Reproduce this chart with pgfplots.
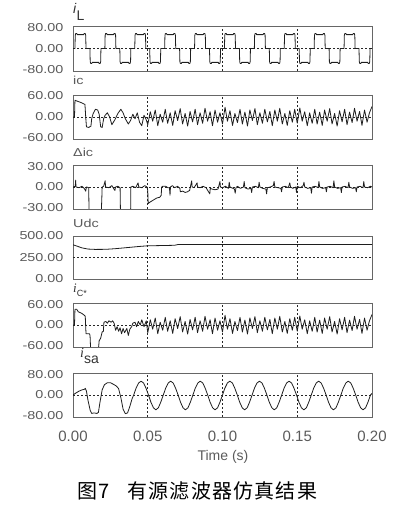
\documentclass[border=0pt]{standalone}
\usepackage{fontspec}
\setmainfont{Liberation Sans}
\newfontfamily\tickfont[FakeStretch=1.25]{Liberation Sans}
\newfontfamily\serifit{Liberation Serif}
\newfontfamily\cjk[LetterSpace=6]{Noto Sans CJK SC}
\usepackage{pgfplots}
\usepackage{pgfplotstable}
\pgfplotsset{compat=1.18}
\definecolor{tickc}{HTML}{5A5A5A}
\definecolor{wave}{HTML}{1E1E1E}
\pgfplotsset{
  panel/.style={
    scale only axis, width=299pt, xmin=0, xmax=0.2,
    anchor=north west,
    axis line style={black!60, line width=0.7pt},
    major tick length=0pt,
    xtick={0,0.05,0.1,0.15,0.2}, xticklabels={},
    xmajorgrids,
    major grid style={black!85, line width=0.55pt, dash pattern=on 2pt off 2pt},
    yticklabel style={font=\tickfont\fontsize{11.5}{12}\selectfont, text=tickc, xshift=-6pt},
    xticklabel style={font=\fontsize{15}{16}\selectfont, text=tickc, yshift=-10pt},
    extra y tick labels={},
    extra y tick style={ymajorgrids=true},
  },
  wv/.style={wave, line width=0.8pt, no markers, line join=round},
}
\pgfplotstableread{
t v
0.0500 -22
0.0517 15
0.0533 -12
0.0550 20
0.0567 -25
0.0583 8
0.0600 -15
0.0617 22
0.0633 -18
0.0650 12
0.0667 -24
0.0683 18
0.0700 -10
0.0717 24
0.0733 -20
0.0750 10
0.0767 -26
0.0783 16
0.0800 -14
0.0817 22
0.0833 -22
0.0850 12
0.0867 -18
0.0883 25
0.0900 -12
0.0917 15
0.0933 -25
0.0950 20
0.0967 -15
0.0983 12
0.1000 -20
0.1017 28
0.1033 -12
0.1050 18
0.1067 -24
0.1083 10
0.1100 -16
0.1117 22
0.1133 -20
0.1150 14
0.1167 -26
0.1183 20
0.1200 -10
0.1217 24
0.1233 -22
0.1250 12
0.1267 -18
0.1283 22
0.1300 -14
0.1317 16
0.1333 -25
0.1350 20
0.1367 -12
0.1383 25
0.1400 -20
0.1417 10
0.1433 -24
0.1450 18
0.1467 -15
0.1483 22
0.1500 -18
0.1517 26
0.1533 -12
0.1550 15
0.1567 -25
0.1583 12
0.1600 -18
0.1617 22
0.1633 -20
0.1650 14
0.1667 -24
0.1683 20
0.1700 -12
0.1717 24
0.1733 -20
0.1750 10
0.1767 -26
0.1783 18
0.1800 -14
0.1817 22
0.1833 -22
0.1850 14
0.1867 -16
0.1883 25
0.1900 -12
0.1917 16
0.1933 -24
0.1950 20
0.1967 -15
0.1983 12
0.2000 30
}\zigzag
\pgfplotstableread{
t v
0.0406 0
0.0422 27
0.0439 47
0.0455 54
0.0472 47
0.0488 27
0.0505 0
0.0521 -28
0.0538 -50
0.0554 -58
0.0571 -50
0.0587 -28
0.0604 0
0.0620 27
0.0637 47
0.0653 54
0.0670 47
0.0686 27
0.0703 0
0.0719 -28
0.0736 -50
0.0752 -58
0.0769 -50
0.0785 -28
0.0802 0
0.0818 27
0.0835 47
0.0851 54
0.0868 47
0.0884 27
0.0901 0
0.0917 -28
0.0934 -50
0.0950 -58
0.0967 -50
0.0983 -28
0.1000 0
0.1016 27
0.1033 47
0.1049 54
0.1066 47
0.1082 27
0.1099 0
0.1115 -28
0.1132 -50
0.1148 -58
0.1165 -50
0.1181 -28
0.1198 0
0.1214 27
0.1231 47
0.1247 54
0.1264 47
0.1280 27
0.1297 0
0.1313 -28
0.1330 -50
0.1346 -58
0.1363 -50
0.1379 -28
0.1396 0
0.1412 27
0.1429 47
0.1445 54
0.1462 47
0.1478 27
0.1495 0
0.1511 -28
0.1528 -50
0.1544 -58
0.1561 -50
0.1577 -28
0.1594 0
0.1610 27
0.1627 47
0.1643 54
0.1660 47
0.1676 27
0.1693 0
0.1709 -28
0.1726 -50
0.1742 -58
0.1759 -50
0.1775 -28
0.1792 0
0.1808 27
0.1825 47
0.1841 54
0.1858 47
0.1874 27
0.1891 0
0.1907 -28
0.1924 -50
0.1940 -58
0.1957 -50
0.1973 -28
0.1990 0
0.2000 6
}\isasteady
\begin{document}
\begin{tikzpicture}
\path[use as bounding box] (0pt,0pt) rectangle (408pt,510pt);

% ---------- panel 1: iL ----------
\begin{axis}[panel, at={(73pt,484pt)}, height=45pt,
  ymin=-86, ymax=86, ytick={-80,0,80}, yticklabels={-80.00,0.00,80.00},
  extra y ticks={0}]
\addplot[wv] coordinates {
(0,0) (0.0013,0) (0.0015,50) (0.0018,57) (0.0026,57) (0.0028,53) (0.0072,53) (0.0074,57) (0.0082,57) (0.0085,50) (0.0087,0) (0.0113,0) (0.0115,-50) (0.0118,-57) (0.0126,-57) (0.0128,-53) (0.0172,-53) (0.0174,-57) (0.0182,-57) (0.0185,-50) (0.0187,0)
(0.0213,0) (0.0215,50) (0.0218,57) (0.0226,57) (0.0228,53) (0.0272,53) (0.0274,57) (0.0282,57) (0.0285,50) (0.0287,0) (0.0313,0) (0.0315,-50) (0.0318,-57) (0.0326,-57) (0.0328,-53) (0.0372,-53) (0.0374,-57) (0.0382,-57) (0.0385,-50) (0.0387,0)
(0.0413,0) (0.0415,50) (0.0418,57) (0.0426,57) (0.0428,53) (0.0472,53) (0.0474,57) (0.0482,57) (0.0485,50) (0.0487,0) (0.0513,0) (0.0515,-50) (0.0518,-57) (0.0526,-57) (0.0528,-53) (0.0572,-53) (0.0574,-57) (0.0582,-57) (0.0585,-50) (0.0587,0)
(0.0613,0) (0.0615,50) (0.0618,57) (0.0626,57) (0.0628,53) (0.0672,53) (0.0674,57) (0.0682,57) (0.0685,50) (0.0687,0) (0.0713,0) (0.0715,-50) (0.0718,-57) (0.0726,-57) (0.0728,-53) (0.0772,-53) (0.0774,-57) (0.0782,-57) (0.0785,-50) (0.0787,0)
(0.0813,0) (0.0815,50) (0.0818,57) (0.0826,57) (0.0828,53) (0.0872,53) (0.0874,57) (0.0882,57) (0.0885,50) (0.0887,0) (0.0913,0) (0.0915,-50) (0.0918,-57) (0.0926,-57) (0.0928,-53) (0.0972,-53) (0.0974,-57) (0.0982,-57) (0.0985,-50) (0.0987,0)
(0.1013,0) (0.1015,50) (0.1018,57) (0.1026,57) (0.1028,53) (0.1072,53) (0.1074,57) (0.1082,57) (0.1085,50) (0.1087,0) (0.1113,0) (0.1115,-50) (0.1118,-57) (0.1126,-57) (0.1128,-53) (0.1172,-53) (0.1174,-57) (0.1182,-57) (0.1185,-50) (0.1187,0)
(0.1213,0) (0.1215,50) (0.1218,57) (0.1226,57) (0.1228,53) (0.1272,53) (0.1274,57) (0.1282,57) (0.1285,50) (0.1287,0) (0.1313,0) (0.1315,-50) (0.1318,-57) (0.1326,-57) (0.1328,-53) (0.1372,-53) (0.1374,-57) (0.1382,-57) (0.1385,-50) (0.1387,0)
(0.1413,0) (0.1415,50) (0.1418,57) (0.1426,57) (0.1428,53) (0.1472,53) (0.1474,57) (0.1482,57) (0.1485,50) (0.1487,0) (0.1513,0) (0.1515,-50) (0.1518,-57) (0.1526,-57) (0.1528,-53) (0.1572,-53) (0.1574,-57) (0.1582,-57) (0.1585,-50) (0.1587,0)
(0.1613,0) (0.1615,50) (0.1618,57) (0.1626,57) (0.1628,53) (0.1672,53) (0.1674,57) (0.1682,57) (0.1685,50) (0.1687,0) (0.1713,0) (0.1715,-50) (0.1718,-57) (0.1726,-57) (0.1728,-53) (0.1772,-53) (0.1774,-57) (0.1782,-57) (0.1785,-50) (0.1787,0)
(0.1813,0) (0.1815,50) (0.1818,57) (0.1826,57) (0.1828,53) (0.1872,53) (0.1874,57) (0.1882,57) (0.1885,50) (0.1887,0) (0.1913,0) (0.1915,-50) (0.1918,-57) (0.1926,-57) (0.1928,-53) (0.1972,-53) (0.1974,-57) (0.1982,-57) (0.1985,-50) (0.1987,0) (0.2,0)
};
\end{axis}

% ---------- panel 2: ic ----------
\begin{axis}[panel, at={(73pt,415pt)}, height=44pt,
  ymin=-63, ymax=63, ytick={-60,0,60}, yticklabels={-60.00,0.00,60.00},
  extra y ticks={0}]
\addplot[wv] coordinates {
(0,0) (0.0010,0) (0.0013,48) (0.0030,45) (0.0050,42) (0.0070,38) (0.0080,36) (0.0085,0) (0.0090,-28) (0.0105,-30) (0.0120,-26) (0.0125,-5) (0.0135,10) (0.0150,22) (0.0165,20) (0.0175,8) (0.0185,-28) (0.0195,-30) (0.0205,-5) (0.0215,5) (0.0230,12) (0.0245,0) (0.0260,-22) (0.0280,-8) (0.0300,10) (0.0320,22) (0.0335,12) (0.0350,-5) (0.0370,-20) (0.0385,-10) (0.0400,8) (0.0415,-5) (0.0430,12) (0.0445,-15) (0.0460,-25) (0.0475,5) (0.0490,-8) (0.0500,-22)
};
\addplot[wv] table[x=t,y=v]{\zigzag};
\end{axis}

% ---------- panel 3: delta ic ----------
\begin{axis}[panel, at={(73pt,345pt)}, height=44pt,
  ymin=-32, ymax=32, ytick={-30,0,30}, yticklabels={-30.00,0.00,30.00},
  extra y ticks={0}]
\addplot[wv] coordinates {
(0,0) (0.0015,1) (0.0018,10) (0.0020,0) (0.0040,-1) (0.0060,1) (0.0075,-2) (0.0085,-6) (0.0090,0) (0.0105,-1) (0.0108,-45) (0.0188,-45) (0.0193,-15) (0.0195,0) (0.0205,1) (0.0215,9) (0.0218,0) (0.0240,-1) (0.0260,2) (0.0280,-5) (0.0285,0) (0.0300,1) (0.0315,-1) (0.0318,-45) (0.0385,-45) (0.0387,0) (0.0400,1) (0.0420,-1) (0.0435,6) (0.0440,0) (0.0460,-1) (0.0480,2) (0.0495,0) (0.0500,-5) (0.0503,-24) (0.0515,-22) (0.0530,-20) (0.0545,-18) (0.0560,-16) (0.0580,-15) (0.0590,-12) (0.0593,0) (0.0600,1) (0.0620,1) (0.0635,-1) (0.0645,-1) (0.0649,-12) (0.0652,0) (0.0665,2) (0.0680,-1) (0.0700,1) (0.0715,-2) (0.0718,-7) (0.0735,-6) (0.0750,-8) (0.0765,-7) (0.0780,-5) (0.0785,0) (0.0794,9) (0.0797,0) (0.0810,-1) (0.0830,6) (0.0833,0) (0.0850,-1) (0.0870,1) (0.0890,-1) (0.0915,-10) (0.0918,-2) (0.0930,-3) (0.0950,-4) (0.0970,-3) (0.0983,8) (0.0986,0)
(0.1000,-1) (0.1020,1) (0.1040,-2) (0.1045,7) (0.1050,0) (0.1060,-1) (0.1080,-3) (0.1085,-9) (0.1090,-1) (0.1100,1) (0.1120,-2) (0.1140,0) (0.1145,8) (0.1150,-1) (0.1170,-3) (0.1190,-2) (0.1195,-8) (0.1200,0) (0.1220,1) (0.1240,-1) (0.1245,7) (0.1250,0) (0.1270,-2) (0.1290,-3) (0.1295,-10) (0.1300,-1) (0.1320,0) (0.1340,2) (0.1345,8) (0.1350,0) (0.1370,-1) (0.1390,-2) (0.1395,-7) (0.1400,0) (0.1420,1) (0.1440,-1) (0.1450,6) (0.1455,0) (0.1470,-2) (0.1490,0) (0.1495,-8) (0.1500,1) (0.1520,-1) (0.1540,2) (0.1545,7) (0.1550,0) (0.1570,-2) (0.1590,-1) (0.1595,-9) (0.1600,0) (0.1620,1) (0.1640,-1) (0.1645,8) (0.1650,0) (0.1670,-2) (0.1690,-1) (0.1695,-7) (0.1700,0) (0.1720,1) (0.1740,-1) (0.1745,9) (0.1750,0) (0.1770,-2) (0.1790,-1) (0.1795,-8) (0.1800,0) (0.1820,1) (0.1840,-1) (0.1845,7) (0.1850,0) (0.1870,-2) (0.1890,-1) (0.1895,-7) (0.1900,0) (0.1920,1) (0.1940,-1) (0.1945,8) (0.1950,0) (0.1970,-1) (0.1990,1) (0.2000,0)
};
\end{axis}

% ---------- panel 4: Udc ----------
\begin{axis}[panel, at={(73pt,274pt)}, height=43pt,
  ymin=0, ymax=500, ytick={0,250,500}, yticklabels={0.00,250.00,500.00},
  extra y ticks={250}]
\addplot[wv] coordinates {
(0,398) (0.003,380) (0.006,362) (0.010,348) (0.015,344) (0.022,345) (0.028,352) (0.033,360) (0.038,368) (0.044,378) (0.050,386) (0.060,389) (0.068,392) (0.070,400) (0.2,400)
};
\end{axis}

% ---------- panel 5: iC* ----------
\begin{axis}[panel, at={(73pt,207pt)}, height=44pt,
  ymin=-63, ymax=63, ytick={-60,0,60}, yticklabels={-60.00,0.00,60.00},
  extra y ticks={0}]
\addplot[wv] coordinates {
(0,0) (0.0010,0) (0.0013,45) (0.0025,45) (0.0035,38) (0.0060,33) (0.0075,28) (0.0082,25) (0.0087,-25) (0.0110,-25) (0.0114,-30) (0.0118,-70) (0.0140,-70) (0.0160,-66) (0.0170,-70) (0.0175,-45) (0.0185,-38) (0.0195,-20) (0.0203,-18) (0.0207,8) (0.0220,10) (0.0230,5) (0.0240,12) (0.0255,8) (0.0265,12) (0.0275,5) (0.0285,-15) (0.0295,-5) (0.0305,-18) (0.0315,-8) (0.0325,-25) (0.0335,-10) (0.0345,-22) (0.0360,-10) (0.0370,-30) (0.0380,-12) (0.0392,-5) (0.0400,5) (0.0415,8) (0.0425,-5) (0.0437,10) (0.0450,0) (0.0460,15) (0.0475,-5) (0.0490,12) (0.0500,-22)
};
\addplot[wv] table[x=t,y=v]{\zigzag};
\end{axis}

% ---------- panel 6: isa ----------
\begin{axis}[panel, at={(73pt,137pt)}, height=44pt,
  ymin=-86, ymax=86, ytick={-80,0,80}, yticklabels={-80.00,0.00,80.00},
  extra y ticks={0},
  xticklabels={0.00,0.05,0.10,0.15,0.20}]
\addplot[wv] coordinates {
(0,0) (0.0020,8) (0.0040,15) (0.0060,20) (0.0075,22) (0.0082,26) (0.0090,15) (0.0100,-20) (0.0115,-60) (0.0125,-72) (0.0140,-70) (0.0160,-72) (0.0170,-68) (0.0180,-30) (0.0195,20) (0.0210,40) (0.0230,48) (0.0250,48) (0.0270,42) (0.0290,35) (0.0305,25) (0.0320,-10) (0.0335,-55) (0.0350,-73) (0.0365,-70) (0.0380,-45) (0.0395,-15) (0.0406,0)
};
\addplot[wv] table[x=t,y=v]{\isasteady};
\end{axis}

% ---------- labels ----------
\node[anchor=base west, inner sep=0, font=\fontsize{14}{14}\selectfont, text=black!80] at (73pt,496pt) {\textit{i}\raisebox{-7pt}{L}};
\node[anchor=base west, inner sep=0, font=\tickfont\fontsize{11.5}{12}\selectfont, text=tickc] at (73pt,425pt) {ic};
\node[anchor=base west, inner sep=0, font=\tickfont\fontsize{11.5}{12}\selectfont, text=tickc] at (73pt,353pt) {Δic};
\node[anchor=base west, inner sep=0, font=\tickfont\fontsize{11.5}{12}\selectfont, text=tickc] at (73pt,282pt) {Udc};
\node[anchor=base west, inner sep=0, font=\fontsize{13}{13}\selectfont, text=black!80] at (73pt,217pt) {{\serifit\itshape i}\raisebox{-4pt}{\fontsize{9}{9}\selectfont C*}};
\node[anchor=base west, inner sep=0, font=\fontsize{14}{14}\selectfont, text=black!80] at (80pt,152pt) {{\serifit\itshape i}\raisebox{-6pt}{sa}};
\node[anchor=base, inner sep=0, font=\fontsize{14}{14}\selectfont, text=tickc] at (223pt,49pt) {Time (s)};
\node[anchor=base west, inner sep=0, font=\cjk\fontsize{20}{20}\selectfont] at (77pt,11pt) {图7\hspace{18pt}有源滤波器仿真结果};
\end{tikzpicture}
\end{document}
